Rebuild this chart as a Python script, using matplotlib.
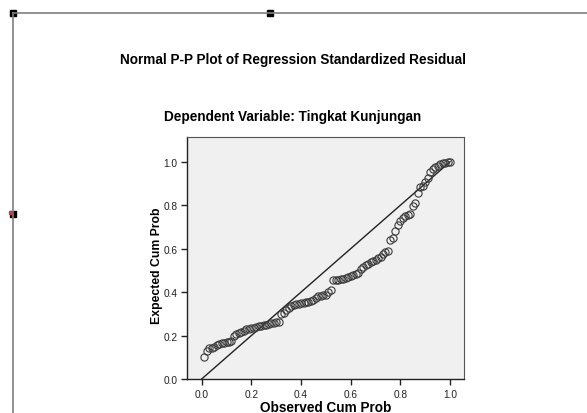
import matplotlib
matplotlib.use("Agg")
import matplotlib.pyplot as plt
from matplotlib.lines import Line2D
from matplotlib.patches import Rectangle

plt.rcParams['font.family'] = ['Liberation Sans', 'DejaVu Sans']

# Observed cumulative probability (x) and expected cumulative probability (y)
observed_cum_prob = [
    0.01, 0.02, 0.03, 0.04, 0.05, 0.06, 0.07, 0.08, 0.09, 0.10,
    0.11, 0.12, 0.13, 0.14, 0.15, 0.16, 0.17, 0.18, 0.19, 0.20,
    0.21, 0.22, 0.23, 0.24, 0.25, 0.26, 0.27, 0.28, 0.29, 0.30,
    0.31, 0.32, 0.33, 0.34, 0.35, 0.36, 0.37, 0.38, 0.39, 0.40,
    0.41, 0.42, 0.43, 0.44, 0.45, 0.46, 0.47, 0.48, 0.49, 0.50,
    0.51, 0.52, 0.53, 0.54, 0.55, 0.56, 0.57, 0.58, 0.59, 0.60,
    0.61, 0.62, 0.63, 0.64, 0.65, 0.66, 0.67, 0.68, 0.69, 0.70,
    0.71, 0.72, 0.73, 0.74, 0.75, 0.76, 0.77, 0.78, 0.79, 0.80,
    0.81, 0.82, 0.83, 0.84, 0.85, 0.86, 0.87, 0.88, 0.89, 0.90,
    0.91, 0.92, 0.93, 0.94, 0.95, 0.96, 0.97, 0.98, 0.99, 1.00,
]
expected_cum_prob = [
    0.100, 0.130, 0.143, 0.145, 0.148, 0.158, 0.163, 0.167, 0.168, 0.170,
    0.172, 0.176, 0.200, 0.205, 0.210, 0.215, 0.222, 0.228, 0.230, 0.233,
    0.236, 0.240, 0.242, 0.245, 0.248, 0.250, 0.253, 0.256, 0.258, 0.261,
    0.263, 0.300, 0.306, 0.318, 0.325, 0.338, 0.342, 0.344, 0.346, 0.348,
    0.350, 0.354, 0.356, 0.360, 0.365, 0.372, 0.380, 0.383, 0.385, 0.388,
    0.400, 0.410, 0.455, 0.457, 0.458, 0.459, 0.461, 0.465, 0.470, 0.476,
    0.480, 0.485, 0.490, 0.505, 0.515, 0.523, 0.530, 0.537, 0.543, 0.550,
    0.555, 0.562, 0.575, 0.585, 0.589, 0.638, 0.648, 0.680, 0.708, 0.728,
    0.740, 0.750, 0.755, 0.760, 0.797, 0.810, 0.855, 0.886, 0.890, 0.905,
    0.925, 0.955, 0.965, 0.975, 0.982, 0.988, 0.993, 0.996, 0.998, 1.000,
]
ref_line = [0.0, 1.0]
ticks = [0.0, 0.2, 0.4, 0.6, 0.8, 1.0]
tick_labels = ['0.0', '0.2', '0.4', '0.6', '0.8', '1.0']

fig = plt.figure(figsize=(5.87, 4.14), dpi=100)
fig.patch.set_facecolor('white')

# editor frame around the chart
W, H = 587.0, 414.0
fig.add_artist(Line2D([13 / W, 1.0], [1 - 14 / H, 1 - 14 / H], color='#7f7f7f', lw=1.2, transform=fig.transFigure))
fig.add_artist(Line2D([13 / W, 13 / W], [0.0, 1 - 14 / H], color='#7f7f7f', lw=1.2, transform=fig.transFigure))
for px, py in [(13, 14), (270, 14), (13, 215)]:
    fig.add_artist(Rectangle(((px - 3) / W, 1 - (py + 3) / H), 6 / W, 6 / H,
                             color='black', transform=fig.transFigure))
fig.add_artist(Rectangle((8.5 / W, 1 - 215 / H), 2 / W, 3 / H, color='#e03030', transform=fig.transFigure))

fig.text(293 / W, 1 - 60 / H, 'Normal P-P Plot of Regression Standardized Residual',
         ha='center', va='center', fontsize=9.8, fontweight='bold')
fig.text(293 / W, 1 - 117 / H, 'Dependent Variable: Tingkat Kunjungan',
         ha='center', va='center', fontsize=9.8, fontweight='bold')

ax = fig.add_axes([187 / W, 1 - 380 / H, 277 / W, 242 / H])
ax.set_facecolor('#f0f0f0')
ax.plot(ref_line, ref_line, color='#222222', lw=1.0, zorder=2)
ax.plot(observed_cum_prob, expected_cum_prob, linestyle='none', marker='o',
        markersize=5.2, markerfacecolor='none', markeredgecolor='#3a3a3a',
        markeredgewidth=0.8, zorder=3)

ax.set_xlim(-0.059, 1.056)
ax.set_ylim(0.0, 1.114)
ax.set_xticks(ticks)
ax.set_xticklabels(tick_labels)
ax.set_yticks(ticks)
ax.set_yticklabels(tick_labels)
ax.tick_params(axis='both', labelsize=7.3, length=4, width=1, color='#222222',
               labelcolor='#222222', pad=3)
for side in ['top', 'right']:
    ax.spines[side].set_color('#555555')
    ax.spines[side].set_linewidth(0.8)
for side in ['left', 'bottom']:
    ax.spines[side].set_color('#222222')
    ax.spines[side].set_linewidth(1.0)

ax.set_xlabel('Observed Cum Prob', fontsize=9.8, fontweight='bold', labelpad=1)
ax.set_ylabel('Expected Cum Prob', fontsize=8.8, fontweight='bold')
ax.yaxis.set_label_coords(-0.088, 0.471)

fig.savefig('out.png', dpi=100)
